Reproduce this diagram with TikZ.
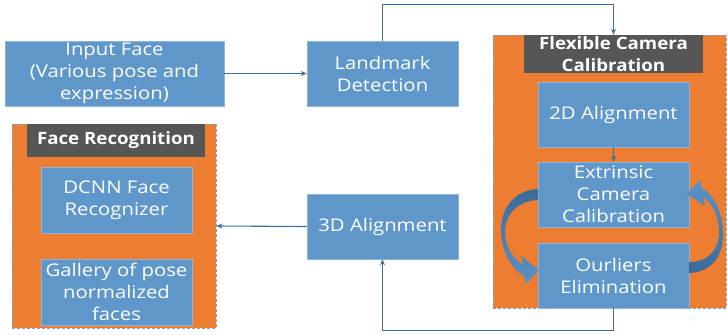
\documentclass[tikz,border=0pt]{standalone}
\usepackage{fontspec}
\setmainfont[FakeStretch=1.16, BoldFeatures={FakeStretch=1.1}]{Open Sans}
\usetikzlibrary{arrows.meta}
\definecolor{boxblue}{HTML}{5F97CB}
\definecolor{boxedge}{HTML}{8DB6DE}
\definecolor{panelorange}{HTML}{EC7D31}
\definecolor{titlegray}{HTML}{565656}
\definecolor{linkblue}{HTML}{3E6E9E}
\definecolor{dashblue}{HTML}{7AA3CF}
\definecolor{arrowdark}{HTML}{3C6A98}
\definecolor{arrowlight}{HTML}{5B93C8}
\tikzset{
  txt/.style={font=\fontsize{17.5bp}{22bp}\selectfont, text=white, align=center},
  bluebox/.style={txt, rectangle, fill=boxblue, draw=boxedge, line width=0.5bp,
    minimum width=151bp, minimum height=65bp, inner sep=0pt},
  panel/.style={rectangle, fill=panelorange, draw=dashblue, dashed,
    dash pattern=on 3bp off 2bp, line width=0.8bp, inner sep=0pt},
  titlebox/.style={txt, font=\fontsize{17bp}{22bp}\selectfont\bfseries,
    rectangle, fill=titlegray, inner sep=0pt},
  conn/.style={draw=linkblue, line width=1.1bp,
    -{Stealth[length=6bp,width=5bp]}},
}
\begin{document}
\begin{tikzpicture}[x=1bp,y=-1bp]
\useasboundingbox (0,0) rectangle (728,334);
\fill[white] (0,0) rectangle (728,334);

% left column and middle column boxes
\node[bluebox, minimum width=219bp] (input) at (114.5,73.5)
  {Input Face\\(Various pose and\\expression)};
\node[bluebox] (landmark) at (382.5,73.5) {Landmark\\Detection};
\node[bluebox] (align3d) at (382.5,226.5) {3D Alignment};

% face recognition panel
\node[panel, minimum width=204bp, minimum height=204bp] (frpanel) at (114,226) {};
\node[titlebox, minimum width=178bp, minimum height=33bp] (frtitle) at (116,140.5)
  {Face Recognition};
\node[bluebox, minimum height=66bp] (dcnn) at (116.5,200) {DCNN Face\\Recognizer};
\node[bluebox, minimum height=66bp] (gallery) at (116.5,292)
  {Gallery of pose\\normalized\\faces};

% flexible camera calibration panel
\node[panel, minimum width=233bp, minimum height=273bp] (flexpanel) at (609.5,171.5) {};
\node[titlebox, minimum width=179bp, minimum height=38bp] (flextitle) at (613.5,54)
  {Flexible Camera\\Calibration};
\node[bluebox] (align2d) at (613.5,114.5) {2D Alignment};
\node[bluebox] (extrinsic) at (613.5,194.5) {Extrinsic\\Camera\\Calibration};
\node[bluebox] (outliers) at (613.5,275.5) {Ourliers\\Elimination};

% curved block arrows of the calibration loop
\shade[top color=arrowdark, bottom color=arrowlight]
  (538,189) .. controls (512,190) and (500,212) .. (501,232)
  .. controls (502,252) and (511,268) .. (524,276)
  -- (526,284) -- (539,270) -- (521,256) -- (523,265)
  .. controls (512,258) and (505,246) .. (505,232)
  .. controls (505,214) and (518,201) .. (538,200) -- cycle;
\shade[top color=arrowlight, bottom color=arrowdark]
  (689,273) .. controls (713,272) and (724,254) .. (723,232)
  .. controls (722,210) and (713,194) .. (702,188)
  -- (700,180) -- (687,194) -- (705,206) -- (703,197)
  .. controls (712,203) and (719,216) .. (719,232)
  .. controls (719,250) and (708,262) .. (689,262) -- cycle;

% connectors
\draw[conn] (input.east) -- (landmark.west);
\draw[conn] (landmark.north) -- ++(0,-36) -| (flextitle.north);
\draw[conn] (align2d.south) -- (extrinsic.north);
\draw[conn] (outliers.south) -- ++(0,22) -| (align3d.south);
\draw[conn] (align3d.west) -- (frpanel.east);
\end{tikzpicture}
\end{document}
